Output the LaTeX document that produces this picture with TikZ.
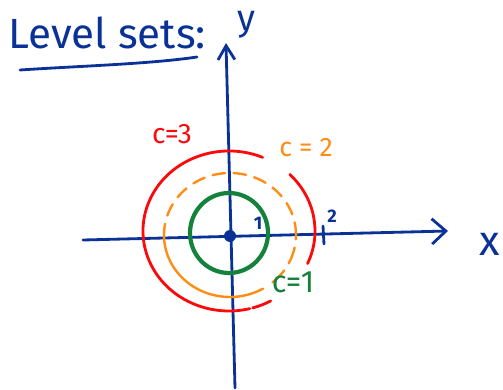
\documentclass[tikz,border=0pt]{standalone}
\usepackage{fontspec}
\setmainfont{Fira Sans}
\usepackage{xcolor}
\usetikzlibrary{arrows.meta}
\definecolor{penblue}{RGB}{10,50,150}
\definecolor{penred}{RGB}{250,10,10}
\definecolor{penorange}{RGB}{255,140,20}
\definecolor{pengreen}{RGB}{20,130,60}

\begin{document}
\begin{tikzpicture}[x=0.25mm,y=-0.25mm,line cap=round,line join=round,
    axis/.style={penblue,line width=2pt},
    hand/.style={inner sep=0pt,font=\fontsize{#1}{#1}\selectfont},
    hand/.default=20]
    \useasboundingbox (0,0) rectangle (503,390);
    % Title
    \node[hand=30,penblue,anchor=west] (title) at (8,33) {Level sets:};
    \draw[penblue,line width=2pt] (20,70) .. controls (80,66) and (150,64) .. (197,57);
    % Axes
    \coordinate (xstart) at (83,240);
    \coordinate (xend) at (448,231);
    \coordinate (ystart) at (235,388);
    \coordinate (yend) at (226,43);
    \draw[axis,-{Straight Barb[length=10pt,width=18pt]}] (xstart) -- (xend);
    \draw[axis,-{Straight Barb[length=10pt,width=12pt]}] (ystart) -- (yend);
    \node[hand=30,penblue] (xlabel) at (490,244) {x};
    \node[hand=26,penblue] (ylabel) at (246,25) {y};
    % Ticks
    \draw[axis] (323,226) -- (324,244);
    \node[hand=12,penblue,font=\bfseries\fontsize{13}{13}\selectfont] (ticktwo) at (332,216) {2};
    \node[hand=12,penblue,font=\bfseries\fontsize{13}{13}\selectfont] (tickone) at (258,223) {1};
    % Level curves
    \begin{scope}[shift={(229,231)},y=0.25mm]
      \draw[penred,line width=2pt] (67:86 and 80) arc[start angle=67,end angle=284,x radius=86,y radius=80];
      \draw[penred,line width=2pt] (-74:86 and 80) arc[start angle=-74,end angle=-61,x radius=86,y radius=80];
      \draw[penred,line width=2pt] (-24:86 and 80) arc[start angle=-24,end angle=45,x radius=86,y radius=80];
    \end{scope}
    \begin{scope}[shift={(230,235)},y=0.25mm]
      \draw[penorange,line width=1.7pt,dash pattern=on 9pt off 6pt] (0:66 and 62) arc[start angle=0,end angle=180,x radius=66,y radius=62];
      \draw[penorange,line width=1.7pt] (180:66 and 62) arc[start angle=180,end angle=300,x radius=66,y radius=62];
      \draw[penorange,line width=1.7pt,dash pattern=on 12pt off 6pt] (310:66 and 62) arc[start angle=310,end angle=360,x radius=66,y radius=62];
    \end{scope}
    \begin{scope}[shift={(229,233)},y=0.25mm]
      \draw[pengreen,line width=3pt] (0,0) circle[x radius=39,y radius=40];
    \end{scope}
    \fill[penblue] (230,236) circle (6);
    % Labels
    \node[hand=20,penred] (labelthree) at (172,134) {c=3};
    \node[hand=19,penorange] (labeltwo) at (306,148) {c = 2};
    \node[hand=22,pengreen] (labelone) at (293,282) {c=1};
\end{tikzpicture}
\end{document}
